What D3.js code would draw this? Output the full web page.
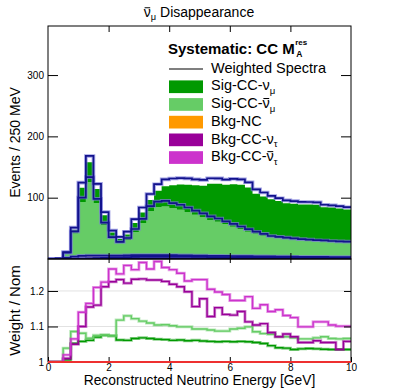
<!DOCTYPE html>
<html>
<head>
<meta charset="utf-8">
<script src="https://cdn.jsdelivr.net/npm/d3@7"></script>
<style>
body { margin: 0; background: #fff; }
text { font-family: "Liberation Sans", Arial, Helvetica, sans-serif; }
</style>
</head>
<body>
<script>
// bin edges of the reconstructed energy histograms [GeV]
let energyEdges = [0, 0.25, 0.5, 0.75, 1, 1.25, 1.5, 1.75, 2, 2.25, 2.5, 2.75, 3, 3.25, 3.5, 3.75,
    4, 4.25, 4.5, 4.75, 5, 5.25, 5.5, 5.75, 6, 6.25, 6.5, 6.75, 7, 7.25, 7.5, 7.75,
    8, 8.25, 8.5, 8.75, 9, 9.25, 9.5, 9.75, 10];

// nominal events per bin
let sigNuMu = [0, 0, 1, 6, 23, 32.5, 23, 16, 10, 7.5,
    9.7, 15, 17.3, 18.4, 26.6, 33, 37.8, 41, 44.8, 47.9,
    51.6, 58.8, 62, 64.3, 69.5, 72.7, 72.4, 65.5, 64, 62.4,
    60.5, 58.4, 58.6, 58.5, 59, 59.5, 56.2, 56.2, 55.4, 54.3];
let sigNuMuBar = [0, 0, 8, 38, 88, 120, 86, 50, 28, 20,
    25, 38, 53, 72, 79, 80, 77, 75, 71, 67,
    63, 59, 56, 52, 48, 44, 40, 37, 34, 31,
    30, 29, 28, 27, 26.5, 25.5, 25, 24.5, 24, 23.5];
let bkgNC = [0, 0.5, 2, 3.5, 4.5, 4.5, 4, 3.5, 3, 2.8,
    2.8, 2.8, 2.7, 2.6, 2.5, 2.5, 2.4, 2.3, 2.2, 2.2,
    2.1, 2, 2, 1.9, 1.9, 1.8, 1.8, 1.7, 1.7, 1.6,
    1.6, 1.5, 1.5, 1.5, 1.4, 1.4, 1.4, 1.3, 1.3, 1.3];
let bkgNuTau = [0, 0, 0.05, 0.1, 0.3, 0.6, 0.9, 1.2, 1.5, 1.7,
    1.9, 2.1, 2.2, 2.3, 2.4, 2.4, 2.4, 2.3, 2.3, 2.2,
    2.2, 2.1, 2, 2, 1.9, 1.9, 1.8, 1.7, 1.7, 1.6,
    1.6, 1.5, 1.5, 1.4, 1.4, 1.3, 1.3, 1.2, 1.2, 1.2];
let bkgNuTauBar = [0, 0, 0.02, 0.1, 0.2, 0.3, 0.4, 0.5, 0.6, 0.6,
    0.7, 0.7, 0.8, 0.8, 0.8, 0.8, 0.8, 0.8, 0.8, 0.8,
    0.7, 0.7, 0.7, 0.7, 0.7, 0.7, 0.7, 0.7, 0.7, 0.7,
    0.7, 0.6, 0.6, 0.6, 0.6, 0.6, 0.6, 0.6, 0.6, 0.6];

// weight / nominal per bin
let ratioNuMu = [1, 1, 1.006, 1.052, 1.058, 1.061, 1.07, 1.075, 1.074, 1.062,
    1.061, 1.066, 1.068, 1.066, 1.064, 1.063, 1.061, 1.062, 1.06, 1.061,
    1.059, 1.058, 1.057, 1.058, 1.057, 1.058, 1.057, 1.055, 1.052, 1.046,
    1.04, 1.039, 1.035, 1.037, 1.038, 1.037, 1.036, 1.035, 1.035, 1.035];
let ratioNuMuBar = [1, 1, 1.039, 1.086, 1.081, 1.067, 1.075, 1.076, 1.073, 1.118,
    1.13, 1.122, 1.115, 1.11, 1.104, 1.105, 1.102, 1.099, 1.099, 1.093,
    1.093, 1.09, 1.087, 1.087, 1.093, 1.095, 1.099, 1.085, 1.08, 1.078,
    1.071, 1.071, 1.068, 1.065, 1.065, 1.068, 1.071, 1.066, 1.065, 1.066];
let ratioNC = [1, 1, 1, 1, 1, 1, 1, 1, 1, 1,
    1, 1, 1, 1, 1, 1, 1, 1, 1, 1,
    1, 1, 1, 1, 1, 1, 1, 1, 1, 1,
    1, 1, 1, 1, 1, 1, 1, 1, 1, 1];
let ratioNuTau = [1, 1, 1.01, 1.05, 1.1, 1.155, 1.16, 1.212, 1.226, 1.232,
    1.222, 1.233, 1.234, 1.231, 1.231, 1.227, 1.219, 1.212, 1.198, 1.156,
    1.178, 1.128, 1.153, 1.134, 1.132, 1.142, 1.113, 1.104, 1.108, 1.083,
    1.071, 1.079, 1.071, 1.055, 1.055, 1.06, 1.055, 1.055, 1.035, 1.058];
let ratioNuTauBar = [1, 1, 1.02, 1.065, 1.14, 1.165, 1.21, 1.225, 1.262, 1.248,
    1.272, 1.26, 1.28, 1.262, 1.283, 1.266, 1.26, 1.25, 1.228, 1.232,
    1.232, 1.205, 1.197, 1.19, 1.173, 1.173, 1.184, 1.151, 1.161, 1.142,
    1.147, 1.131, 1.125, 1.099, 1.099, 1.113, 1.113, 1.104, 1.101, 1.101];

let xTicks = [0, 2, 4, 6, 8, 10];
let yTopTicks = [100, 200, 300];
let yRatTicks = [1, 1.1, 1.2];

// stacking order, bottom first
let comps = [
    {key: "nuTauBar", nom: bkgNuTauBar, ratio: ratioNuTauBar, color: "#cc33cc"},
    {key: "nuTau", nom: bkgNuTau, ratio: ratioNuTau, color: "#990099"},
    {key: "nc", nom: bkgNC, ratio: ratioNC, color: "#ff9900"},
    {key: "nuMuBar", nom: sigNuMuBar, ratio: ratioNuMuBar, color: "#66cc66"},
    {key: "nuMu", nom: sigNuMu, ratio: ratioNuMu, color: "#009900"}
];

let width = 399, height = 388;
let frame = {left: 48, right: 351, top: 26, split: 259, bottom: 362};
let fontFam = '"Liberation Sans", Arial, Helvetica, sans-serif';

let x = d3.scaleLinear().domain([0, 10]).range([frame.left, frame.right]);
let yTop = d3.scaleLinear().domain([0, 380]).range([frame.split, frame.top]);
let yRat = d3.scaleLinear().domain([1, 1.29]).range([frame.bottom, frame.split]);

let svg = d3.select("body").append("svg")
    .attr("width", width)
    .attr("height", height);

svg.append("clipPath").attr("id", "clipTop").append("rect")
    .attr("x", frame.left).attr("y", frame.top)
    .attr("width", frame.right - frame.left).attr("height", frame.split - frame.top);
svg.append("clipPath").attr("id", "clipRat").append("rect")
    .attr("x", frame.left).attr("y", frame.split)
    .attr("width", frame.right - frame.left).attr("height", frame.bottom - frame.split);

// build stacks
let nBins = energyEdges.length - 1;
let nomRows = [], wRows = [];
for (let i = 0; i < nBins; i++) {
    let a = {}, b = {};
    comps.forEach(c => { a[c.key] = c.nom[i]; b[c.key] = c.nom[i] * c.ratio[i]; });
    nomRows.push(a);
    wRows.push(b);
}
let stack = d3.stack().keys(comps.map(c => c.key));
let nomLayers = stack(nomRows);
let wLayers = stack(wRows);

function steps(vals, f0, f1) {
    let pts = [];
    vals.forEach((d, i) => {
        pts.push({e: energyEdges[i], y0: f0(d), y1: f1(d)});
        pts.push({e: energyEdges[i + 1], y0: f0(d), y1: f1(d)});
    });
    return pts;
}

let area = d3.area().x(d => x(d.e)).y0(d => yTop(d.y0)).y1(d => yTop(d.y1));
let topLine = d3.line().x(d => x(d.e)).y(d => yTop(d.y1));
let ratLine = d3.line().x(d => x(d.e)).y(d => yRat(d.y1));

// ---- top panel
let gTop = svg.append("g").attr("clip-path", "url(#clipTop)");

nomLayers.forEach((layer, i) => {
    gTop.append("path")
        .attr("d", area(steps(layer, d => d[0], d => d[1])))
        .attr("fill", comps[i].color);
});

wLayers.forEach(layer => {
    gTop.append("path")
        .attr("d", topLine(steps(layer, d => d[0], d => d[1])))
        .attr("fill", "none")
        .attr("stroke", "#7a7ad8")
        .attr("stroke-opacity", 0.7)
        .attr("stroke-width", 3.6);
});
wLayers.forEach(layer => {
    gTop.append("path")
        .attr("d", topLine(steps(layer, d => d[0], d => d[1])))
        .attr("fill", "none")
        .attr("stroke", "#12128c")
        .attr("stroke-width", 1.7);
});

// ---- ratio panel
let gRat = svg.append("g").attr("clip-path", "url(#clipRat)");

gRat.selectAll(".grid")
    .data([1.1, 1.2])
    .enter().append("line")
    .attr("x1", frame.left).attr("x2", frame.right)
    .attr("y1", d => yRat(d)).attr("y2", d => yRat(d))
    .attr("stroke", "#e2e2e2");

let ratOrder = [comps[4], comps[3], comps[1], comps[0]];
ratOrder.forEach(c => {
    let pts = steps(c.ratio, d => 1, d => d);
    gRat.append("path").attr("d", ratLine(pts))
        .attr("fill", "none").attr("stroke", c.color)
        .attr("stroke-opacity", 0.45).attr("stroke-width", 3);
    gRat.append("path").attr("d", ratLine(pts))
        .attr("fill", "none").attr("stroke", c.color)
        .attr("stroke-width", 1.4);
});

// ---- axes
function styleAxis(g) {
    g.select(".domain").remove();
    g.attr("font-family", fontFam).attr("font-size", 10);
    g.selectAll("line").attr("stroke", "#000");
}

svg.append("g")
    .attr("transform", "translate(" + frame.left + ",0)")
    .call(d3.axisLeft(yTop).tickValues(yTopTicks).tickSizeInner(-10).tickSizeOuter(0).tickPadding(4))
    .call(styleAxis);
svg.append("g")
    .attr("transform", "translate(" + frame.right + ",0)")
    .call(d3.axisRight(yTop).tickValues(yTopTicks).tickSizeInner(-10).tickSizeOuter(0).tickFormat(""))
    .call(styleAxis);
svg.append("g")
    .attr("transform", "translate(" + frame.left + ",0)")
    .call(d3.axisLeft(yRat).tickValues(yRatTicks).tickSizeInner(-10).tickSizeOuter(0).tickPadding(4)
        .tickFormat(d => d === 1 ? "1" : d3.format(".1f")(d)))
    .call(styleAxis);
svg.append("g")
    .attr("transform", "translate(" + frame.right + ",0)")
    .call(d3.axisRight(yRat).tickValues([1.1, 1.2]).tickSizeInner(-7).tickSizeOuter(0).tickFormat(""))
    .call(styleAxis);

svg.append("g")
    .attr("transform", "translate(0," + frame.top + ")")
    .call(d3.axisTop(x).tickValues([2, 4, 6, 8]).tickSizeInner(-6).tickSizeOuter(0).tickFormat(""))
    .call(styleAxis);
svg.append("g")
    .attr("transform", "translate(0," + frame.split + ")")
    .call(d3.axisBottom(x).tickValues([2, 4, 6, 8]).tickSizeInner(-6).tickSizeOuter(0).tickFormat(""))
    .call(styleAxis);
svg.append("g")
    .attr("transform", "translate(0," + frame.split + ")")
    .call(d3.axisTop(x).tickValues([2, 4, 6, 8]).tickSizeInner(-4).tickSizeOuter(0).tickFormat(""))
    .call(styleAxis);
svg.append("g")
    .attr("transform", "translate(0," + frame.bottom + ")")
    .call(d3.axisBottom(x).tickValues(xTicks).tickSizeInner(-5).tickSizeOuter(0).tickPadding(1.5))
    .call(styleAxis);

// frames
svg.append("rect")
    .attr("x", frame.left).attr("y", frame.top)
    .attr("width", frame.right - frame.left).attr("height", frame.split - frame.top)
    .attr("fill", "none").attr("stroke", "#000");
svg.append("rect")
    .attr("x", frame.left).attr("y", frame.split)
    .attr("width", frame.right - frame.left).attr("height", frame.bottom - frame.split)
    .attr("fill", "none").attr("stroke", "#000");

// unit line (NC ratio) on top
svg.append("path")
    .attr("d", ratLine(steps(ratioNC, d => 1, d => d)))
    .attr("fill", "none").attr("stroke", "#ee3030").attr("stroke-width", 2);

// ---- text helper with sub-scripts and bars
function richText(g, tx, ty, parts, size, anchor, weight) {
    let t = g.append("text").attr("x", tx).attr("y", ty)
        .style("font-size", size + "px")
        .style("font-weight", weight || "normal")
        .attr("text-anchor", anchor || "start");
    let shift = 0;
    parts.forEach(p => {
        let s = t.append("tspan").text(p.t);
        if (p.sub) {
            s.style("font-size", (size * 0.66) + "px").attr("dy", size * 0.24);
            shift = size * 0.24;
        } else if (shift) {
            s.attr("dy", -shift);
            shift = 0;
        }
    });
    let idx = 0;
    parts.forEach(p => {
        if (p.bar) {
            let r = t.node().getExtentOfChar(idx);
            g.append("line")
                .attr("x1", r.x + 0.8).attr("x2", r.x + r.width - 0.6)
                .attr("y1", ty - size * 0.66).attr("y2", ty - size * 0.66)
                .attr("stroke", "#000").attr("stroke-width", Math.max(0.9, size * 0.07));
        }
        idx += p.t.length;
    });
    return t;
}

// title
richText(svg, 199, 17, [{t: "ν", bar: true}, {t: "μ", sub: true}, {t: " Disappearance"}], 14, "middle");

// axis titles
svg.append("text")
    .attr("transform", "translate(20," + ((frame.top + frame.split) / 2) + ") rotate(-90)")
    .attr("text-anchor", "middle")
    .style("font-size", "14px")
    .text("Events / 250 MeV");
svg.append("text")
    .attr("transform", "translate(20," + ((frame.split + frame.bottom) / 2) + ") rotate(-90)")
    .attr("text-anchor", "middle")
    .style("font-size", "15px")
    .text("Weight / Nom");
svg.append("text")
    .attr("x", (frame.left + frame.right) / 2)
    .attr("y", 384.5)
    .attr("text-anchor", "middle")
    .style("font-size", "13.8px")
    .text("Reconstructed Neutrino Energy [GeV]");

// ---- legend
let leg = svg.append("g");
let head = leg.append("text")
    .attr("x", 168).attr("y", 53.5)
    .style("font-size", "15px").style("font-weight", "bold")
    .text("Systematic: CC M");
let hw = head.node().getComputedTextLength();
leg.append("text").attr("x", 168 + hw + 0.5).attr("y", 45)
    .style("font-size", "8px").style("font-weight", "bold").text("res");
leg.append("text").attr("x", 168 + hw + 1.5).attr("y", 57)
    .style("font-size", "8.5px").style("font-weight", "bold").text("A");

let legRows = [
    {parts: [{t: "Weighted Spectra"}], line: true},
    {parts: [{t: "Sig-CC-ν"}, {t: "μ", sub: true}], color: "#009900"},
    {parts: [{t: "Sig-CC-"}, {t: "ν", bar: true}, {t: "μ", sub: true}], color: "#66cc66"},
    {parts: [{t: "Bkg-NC"}], color: "#ff9900"},
    {parts: [{t: "Bkg-CC-ν"}, {t: "τ", sub: true}], color: "#990099"},
    {parts: [{t: "Bkg-CC-"}, {t: "ν", bar: true}, {t: "τ", sub: true}], color: "#cc33cc"}
];
legRows.forEach((r, i) => {
    let base = 72.7 + i * 17.7;
    if (r.line) {
        leg.append("line").attr("x1", 169).attr("x2", 203)
            .attr("y1", base - 3.7).attr("y2", base - 3.7)
            .attr("stroke", "#000").attr("stroke-width", 1.2);
    } else {
        leg.append("rect").attr("x", 169).attr("y", base - 10)
            .attr("width", 34).attr("height", 12.7)
            .attr("fill", r.color);
    }
    richText(leg, 211, base, r.parts, 14.5, "start");
});
</script>
</body>
</html>
